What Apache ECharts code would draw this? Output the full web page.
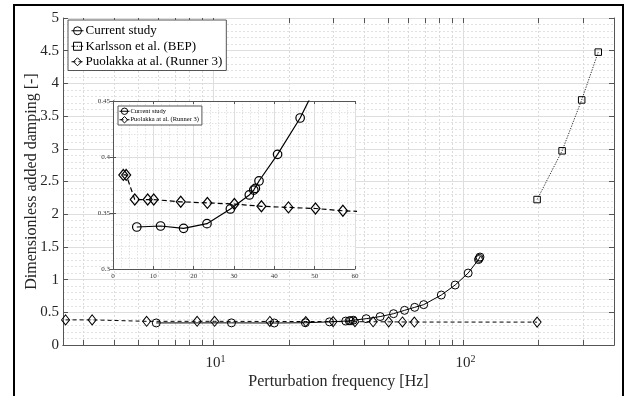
<!DOCTYPE html>
<html><head><meta charset="utf-8">
<script src="https://cdn.jsdelivr.net/npm/echarts@6/dist/echarts.min.js"></script>
<style>html,body{margin:0;padding:0;background:#fff}#c{width:625px;height:396px}</style>
</head><body><div id="c"></div>
<script>
// ---- data ----
const currentFreq = [5.9, 11.8, 17.5, 23.3, 29.1, 33.8, 34.9, 35.3, 36.2, 40.8, 46.4, 52.5, 58.1, 63.8, 69.3, 81.5, 92.6, 104.4, 114.8, 115.6, 116.4];
const currentDamp = [0.3375, 0.3384, 0.3363, 0.3405, 0.3536, 0.3661, 0.3705, 0.3720, 0.3786, 0.4024, 0.4348, 0.479, 0.530, 0.576, 0.617, 0.764, 0.917, 1.100, 1.306, 1.325, 1.345];
const karlssonFreq = [197, 248, 297, 346];
const karlssonDamp = [2.224, 2.969, 3.747, 4.478];
const puolakkaFreq = [2.56, 3.27, 5.4, 8.6, 10.1, 16.8, 23.4, 30.1, 36.8, 43.5, 50.2, 57.0, 63.6, 197];
const puolakkaDamp = [0.384, 0.384, 0.362, 0.362, 0.362, 0.360, 0.359, 0.358, 0.356, 0.355, 0.354, 0.352, 0.351, 0.350];

const seriesNames = ['Current study', 'Karlsson et al. (BEP)', 'Puolakka at al. (Runner 3)'];
const xMinorGrid = [3, 4, 5, 6, 7, 8, 9, 20, 30, 40, 50, 60, 70, 80, 90, 200, 300];
const xMajorGrid = [10, 100];
const xTickValues = [3, 4, 5, 6, 7, 8, 9, 10, 20, 30, 40, 50, 60, 70, 80, 90, 100, 200, 300];
const xRange = [2.5, 400];
const yRange = [0, 5];
const insetXRange = [0, 60];
const insetYRange = [0.3, 0.45];

// ---- build ----
const zip = (a, b) => a.map((v, i) => [v, b[i]]);
const FONT = 'Liberation Serif';
const AX = '#555';
const tickLen = (yRange[1] - yRange[0]) * 5 / 327;

const gridLines = [];
xMinorGrid.forEach(v => gridLines.push({ xAxis: v, lineStyle: { color: '#dadada', type: [2, 2], width: 1 } }));
xMajorGrid.forEach(v => gridLines.push({ xAxis: v, lineStyle: { color: '#dedede', type: 'solid', width: 1 } }));
const tickSegs = [];
xTickValues.forEach(v => {
  tickSegs.push([{ coord: [v, yRange[0]] }, { coord: [v, yRange[0] + tickLen] }]);
  tickSegs.push([{ coord: [v, yRange[1]] }, { coord: [v, yRange[1] - tickLen] }]);
});

const markerStyle = { color: 'rgba(255,255,255,0)', borderColor: '#000', borderWidth: 1 };
const legendItemStyle = { color: 'rgba(255,255,255,0)', borderColor: '#000', borderWidth: 1 };

const option = {
  animation: false,
  graphic: [{
    type: 'rect', silent: true, z: 100,
    shape: { x: 14, y: 5, width: 609, height: 420 },
    style: { fill: 'none', stroke: '#000', lineWidth: 2 }
  }],
  grid: [
    { left: 63, top: 18, right: 11, bottom: 51, outerBoundsMode: 'none', containLabel: false },
    { left: 113, top: 101, width: 242, height: 168, show: true, backgroundColor: '#fff', borderWidth: 0, z: 5, outerBoundsMode: 'none', containLabel: false }
  ],
  legend: [
    {
      data: seriesNames, orient: 'vertical', left: 68, top: 20, z: 10,
      backgroundColor: '#fff', borderColor: AX, borderWidth: 1, borderRadius: 0,
      padding: [3, 4, 1, 3], itemGap: 0, itemWidth: 12, itemHeight: 10,
      itemStyle: legendItemStyle, lineStyle: { color: '#000', width: 1, type: 'inherit' },
      textStyle: { fontFamily: FONT, fontSize: 13, color: '#000', lineHeight: 15.5, padding: [0, 0, 0, -3] },
      selectedMode: false
    },
    {
      data: [seriesNames[0], seriesNames[2]], orient: 'vertical', left: 118, top: 106, z: 9,
      backgroundColor: '#fff', borderColor: AX, borderWidth: 1, borderRadius: 0,
      padding: [1, 3, 1, 1], itemGap: 0, itemWidth: 10, itemHeight: 8,
      itemStyle: legendItemStyle, lineStyle: { color: '#000', width: 1, type: 'inherit' },
      textStyle: { fontFamily: FONT, fontSize: 6.5, color: '#000', lineHeight: 8.5, padding: [0, 0, 0, -4] },
      selectedMode: false
    }
  ],
  xAxis: [
    {
      gridIndex: 0, type: 'log', logBase: 10, min: xRange[0], max: xRange[1], position: 'bottom',
      name: 'Perturbation frequency [Hz]', nameLocation: 'middle', nameGap: 29, nameMoveOverlap: false,
      nameTextStyle: { fontFamily: FONT, fontSize: 16, color: '#262626' },
      axisLine: { show: true, lineStyle: { color: AX, width: 1 } },
      axisTick: { show: false }, splitLine: { show: false },
      axisLabel: {
        margin: 9, color: '#262626', fontFamily: FONT,
        formatter: v => {
          const e = Math.log10(v), r = Math.round(e);
          return Math.abs(e - r) < 1e-6 ? '{b|10}{s|' + r + '}' : '';
        },
        rich: {
          b: { fontFamily: FONT, fontSize: 15, color: '#262626', padding: [0, 0, 0, 4] },
          s: { fontFamily: FONT, fontSize: 10, color: '#262626', padding: [0, 0, 8, 0] }
        }
      }
    },
    {
      gridIndex: 0, type: 'log', logBase: 10, min: xRange[0], max: xRange[1], position: 'top',
      axisLine: { show: true, lineStyle: { color: AX, width: 1 } },
      axisTick: { show: false }, splitLine: { show: false }, axisLabel: { show: false }
    },
    {
      gridIndex: 1, type: 'value', min: insetXRange[0], max: insetXRange[1], interval: 10, position: 'bottom', z: 6,
      axisLine: { show: true, lineStyle: { color: AX, width: 1 } },
      axisTick: { show: true, inside: true, length: 3, lineStyle: { color: AX } },
      minorTick: { show: false, splitNumber: 5 },
      splitLine: { show: true, lineStyle: { color: '#dedede', width: 1 } },
      minorSplitLine: { show: true, lineStyle: { color: '#e2e2e2', type: [1.5, 1.5], width: 1 } },
      axisLabel: { fontFamily: FONT, fontSize: 7, color: '#333', margin: 4 }
    },
    {
      gridIndex: 1, type: 'value', min: insetXRange[0], max: insetXRange[1], interval: 10, position: 'top', z: 6,
      axisLine: { show: true, lineStyle: { color: AX, width: 1 } },
      axisTick: { show: true, inside: true, length: 3, lineStyle: { color: AX } },
      splitLine: { show: false }, axisLabel: { show: false }
    }
  ],
  yAxis: [
    {
      gridIndex: 0, type: 'value', min: yRange[0], max: yRange[1], interval: 0.5, position: 'left',
      name: 'Dimensionless added damping [-]', nameLocation: 'middle', nameGap: 23, nameMoveOverlap: false,
      nameTextStyle: { fontFamily: FONT, fontSize: 16, color: '#262626' },
      axisLine: { show: true, lineStyle: { color: AX, width: 1 } },
      axisTick: { show: true, inside: true, length: 5, lineStyle: { color: AX } },
      minorTick: { show: false, splitNumber: 5 },
      splitLine: { show: true, lineStyle: { color: '#dedede', width: 1 } },
      minorSplitLine: { show: true, lineStyle: { color: '#e2e2e2', type: [2, 2], width: 1 } },
      axisLabel: { fontFamily: FONT, fontSize: 15, color: '#262626', margin: 4 }
    },
    {
      gridIndex: 0, type: 'value', min: yRange[0], max: yRange[1], interval: 0.5, position: 'right',
      axisLine: { show: true, lineStyle: { color: AX, width: 1 } },
      axisTick: { show: true, inside: true, length: 5, lineStyle: { color: AX } },
      splitLine: { show: false }, axisLabel: { show: false }
    },
    {
      gridIndex: 1, type: 'value', min: insetYRange[0], max: insetYRange[1], interval: 0.05, position: 'left', z: 6,
      axisLine: { show: true, lineStyle: { color: AX, width: 1 } },
      axisTick: { show: true, inside: true, length: 3, lineStyle: { color: AX } },
      minorTick: { show: false, splitNumber: 5 },
      splitLine: { show: true, lineStyle: { color: '#dedede', width: 1 } },
      minorSplitLine: { show: true, lineStyle: { color: '#e2e2e2', type: [1.5, 1.5], width: 1 } },
      axisLabel: { fontFamily: FONT, fontSize: 7, color: '#333', margin: 3 }
    },
    {
      gridIndex: 1, type: 'value', min: insetYRange[0], max: insetYRange[1], interval: 0.05, position: 'right', z: 6,
      axisLine: { show: true, lineStyle: { color: AX, width: 1 } },
      axisTick: { show: true, inside: true, length: 3, lineStyle: { color: AX } },
      splitLine: { show: false }, axisLabel: { show: false }
    }
  ],
  series: [
    {
      name: '_grid', type: 'line', xAxisIndex: 0, yAxisIndex: 0, data: [], silent: true, z: 1,
      markLine: { silent: true, symbol: 'none', z: 1, animation: false, label: { show: false }, emphasis: { disabled: true }, data: gridLines }
    },
    {
      name: '_ticks', type: 'line', xAxisIndex: 0, yAxisIndex: 0, data: [], silent: true, z: 2,
      markLine: { silent: true, symbol: 'none', z: 2, animation: false, label: { show: false }, emphasis: { disabled: true },
        lineStyle: { color: AX, width: 1, type: 'solid' }, data: tickSegs }
    },
    {
      name: seriesNames[0], type: 'line', xAxisIndex: 0, yAxisIndex: 0, z: 3,
      data: zip(currentFreq, currentDamp), symbol: 'circle', symbolSize: 8, showAllSymbol: true,
      lineStyle: { color: '#000', width: 1 }, itemStyle: markerStyle, emphasis: { disabled: true }
    },
    {
      name: seriesNames[1], type: 'line', xAxisIndex: 0, yAxisIndex: 0, z: 3,
      data: zip(karlssonFreq, karlssonDamp), symbol: 'rect', symbolSize: 6.5, showAllSymbol: true,
      lineStyle: { color: '#222', width: 0.9, type: [1.3, 1.3] }, itemStyle: markerStyle, emphasis: { disabled: true }
    },
    {
      name: seriesNames[2], type: 'line', xAxisIndex: 0, yAxisIndex: 0, z: 3,
      data: zip(puolakkaFreq, puolakkaDamp), symbol: 'diamond', symbolSize: [8, 10], showAllSymbol: true,
      lineStyle: { color: '#000', width: 1, type: [4, 3] }, itemStyle: markerStyle, emphasis: { disabled: true }
    },
    {
      name: seriesNames[0], type: 'line', xAxisIndex: 2, yAxisIndex: 2, z: 7,
      data: zip(currentFreq, currentDamp), symbol: 'circle', symbolSize: 8.5, showAllSymbol: true, clip: true,
      lineStyle: { color: '#000', width: 1.2 }, itemStyle: { color: 'rgba(255,255,255,0)', borderColor: '#000', borderWidth: 1.2 }, emphasis: { disabled: true }
    },
    {
      name: seriesNames[2], type: 'line', xAxisIndex: 2, yAxisIndex: 2, z: 7,
      data: zip(puolakkaFreq, puolakkaDamp), symbol: 'diamond', symbolSize: [9, 11], showAllSymbol: true, clip: true,
      lineStyle: { color: '#000', width: 1.2, type: [5, 3] }, itemStyle: { color: 'rgba(255,255,255,0)', borderColor: '#000', borderWidth: 1.2 }, emphasis: { disabled: true }
    }
  ]
};
const chart = echarts.init(document.getElementById('c'), null, { renderer: 'canvas' });
chart.setOption(option);
</script>
</body></html>
